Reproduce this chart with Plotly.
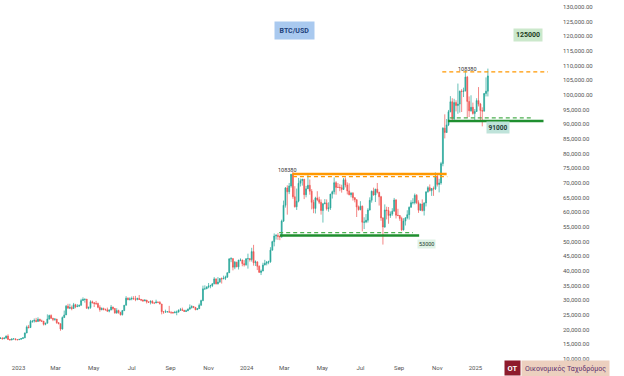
import plotly.graph_objects as go
import pandas as pd

# ---------------- data (3-day BTC/USD candles, values in thousands USD) -------------
first_open = 17.0
closes = [
    17.1, 16.85, 17.15, 17.8, 16.65, 16.45, 16.8, 16.85, 16.55, 16.55,
    16.7, 16.95, 17.2, 18.85, 20.9, 20.7, 22.8, 22.9, 23.1, 22.8,
    23.5, 22.9, 22.9, 21.8, 22.2, 23.6, 24.8, 23.9, 23.5, 23.6,
    22.35, 22.0, 20.2, 24.1, 25.0, 28.0, 27.3, 27.5, 27.2, 28.5,
    27.8, 28.0, 28.3, 29.9, 30.3, 30.4, 27.3, 27.5, 29.5, 29.2,
    28.9, 28.9, 27.6, 26.8, 27.2, 26.8, 26.8, 26.3, 26.7, 27.7,
    27.2, 25.7, 26.5, 25.85, 25.1, 26.5, 28.3, 30.7, 30.3, 30.45,
    30.6, 30.5, 30.3, 30.6, 30.3, 30.1, 29.8, 30.1, 29.4, 29.35,
    29.7, 29.1, 29.1, 29.4, 29.3, 28.7, 26.1, 26.0, 26.05, 26.1,
    25.95, 25.9, 25.75, 25.9, 26.0, 26.6, 26.8, 26.6, 26.2, 26.4,
    26.97, 27.5, 27.9, 27.6, 26.8, 27.15, 28.3, 29.9, 33.9, 33.9,
    34.5, 34.9, 35.0, 35.6, 37.3, 35.6, 36.2, 37.4, 37.3, 37.5,
    37.9, 39.4, 44.1, 44.2, 41.3, 43.0, 41.4, 43.7, 43.7, 42.5,
    42.1, 44.2, 44.2, 43.9, 46.6, 42.8, 43.1, 41.6, 39.5, 40.0,
    42.0, 42.6, 43.0, 43.1, 47.1, 50.0, 51.9, 52.1, 51.8, 51.6,
    57.0, 62.4, 68.3, 67.0, 69.0, 73.0, 65.3, 61.9, 63.8, 69.9,
    70.8, 71.3, 66.0, 68.0, 69.2, 67.2, 63.4, 61.3, 64.9, 64.3,
    63.4, 60.6, 62.9, 63.2, 61.2, 61.5, 66.2, 67.0, 70.1, 68.5,
    68.5, 68.4, 67.8, 71.1, 69.3, 67.3, 66.0, 66.5, 65.0, 64.3,
    61.8, 60.9, 62.1, 56.6, 56.7, 57.3, 60.8, 64.1, 67.2, 65.9,
    67.9, 66.8, 65.3, 58.1, 55.0, 60.8, 60.6, 58.9, 59.4, 60.4,
    64.2, 59.0, 58.9, 57.9, 54.0, 57.0, 58.1, 59.2, 61.7, 63.3,
    63.3, 65.8, 63.3, 60.7, 62.8, 60.6, 63.2, 67.0, 68.4, 67.4,
    68.1, 68.0, 72.3, 69.5, 70.0, 76.6, 88.7, 87.2, 89.8, 94.3,
    97.7, 91.9, 97.4, 96.4, 96.9, 101.3, 101.2, 101.4, 106.1, 97.8,
    94.6, 95.8, 93.7, 94.4, 98.1, 96.9, 94.7, 94.5, 100.5, 101.3,
    106.5,
]
highs = [
    17.4, 17.4, 17.3, 18.0, 18.4, 16.8, 16.95, 16.9, 16.95, 16.7,
    16.8, 17.0, 17.4, 19.0, 21.4, 21.6, 23.3, 23.2, 23.8, 24.0,
    24.2, 23.7, 23.4, 22.9, 22.3, 25.2, 25.1, 25.2, 23.9, 23.9,
    23.6, 22.6, 22.1, 24.5, 26.5, 28.4, 28.8, 28.8, 28.2, 29.1,
    28.8, 28.7, 28.5, 30.5, 31.0, 30.5, 30.4, 27.9, 30.0, 29.9,
    29.3, 29.8, 29.2, 28.3, 27.6, 27.5, 27.2, 27.5, 26.8, 28.4,
    27.8, 27.4, 27.3, 26.8, 26.1, 26.7, 28.4, 31.4, 31.0, 31.0,
    31.3, 31.4, 31.5, 30.9, 31.8, 30.4, 30.3, 30.3, 30.1, 29.6,
    29.9, 30.0, 29.2, 30.2, 29.5, 29.7, 28.8, 26.3, 26.8, 26.2,
    28.1, 26.1, 26.0, 26.4, 26.5, 26.9, 27.4, 27.5, 26.7, 26.8,
    27.2, 28.6, 28.3, 28.0, 27.7, 27.3, 28.9, 30.2, 35.0, 35.1,
    34.8, 35.9, 35.3, 35.9, 37.9, 37.4, 37.9, 37.5, 37.8, 38.4,
    38.4, 39.5, 44.4, 44.7, 44.4, 43.4, 43.1, 43.8, 44.3, 43.9,
    43.7, 44.2, 45.9, 44.4, 47.9, 48.9, 43.6, 43.2, 41.9, 40.5,
    42.8, 43.8, 43.4, 43.5, 48.1, 50.3, 52.8, 52.6, 52.9, 52.0,
    57.5, 64.0, 68.6, 69.2, 70.0, 73.0, 73.8, 68.9, 68.1, 71.7,
    71.5, 71.4, 71.3, 69.0, 72.7, 71.2, 67.9, 64.3, 65.3, 67.2,
    65.3, 64.4, 63.2, 64.5, 64.4, 63.4, 66.3, 67.4, 71.9, 70.6,
    70.0, 69.6, 69.4, 71.7, 71.9, 70.2, 69.9, 66.9, 66.9, 65.1,
    64.4, 62.3, 63.8, 62.3, 58.3, 59.4, 61.4, 65.1, 67.4, 68.4,
    68.0, 70.0, 67.0, 65.6, 58.3, 62.7, 61.9, 61.8, 60.3, 61.4,
    64.9, 64.5, 61.2, 59.0, 58.5, 58.0, 58.4, 60.7, 62.0, 64.1,
    64.8, 66.4, 66.2, 64.1, 63.0, 64.4, 63.4, 67.0, 68.9, 69.5,
    68.3, 68.8, 73.6, 72.7, 71.4, 77.2, 89.0, 93.4, 91.8, 94.9,
    99.6, 98.9, 98.7, 98.2, 103.9, 101.5, 102.0, 102.5, 108.3, 106.5,
    99.5, 99.9, 97.4, 95.2, 98.9, 102.7, 97.3, 95.8, 100.7, 106.0,
    109.0,
]
lows = [
    16.8, 16.7, 16.8, 16.9, 16.6, 16.4, 16.4, 16.75, 16.5, 16.4,
    16.5, 16.6, 16.9, 17.1, 18.8, 20.4, 20.6, 22.3, 22.4, 22.5,
    22.7, 22.8, 22.6, 21.4, 21.5, 22.1, 23.4, 23.6, 22.9, 23.0,
    22.0, 21.9, 19.6, 20.0, 24.0, 25.0, 27.2, 27.0, 26.6, 27.1,
    27.3, 27.8, 27.8, 28.2, 29.8, 29.2, 27.1, 26.9, 27.1, 28.9,
    27.7, 28.4, 27.3, 26.1, 26.6, 26.6, 26.5, 26.1, 25.9, 26.6,
    26.6, 25.4, 25.4, 25.4, 24.8, 24.8, 26.3, 28.3, 30.0, 29.9,
    30.0, 30.2, 29.7, 30.0, 30.2, 29.7, 29.5, 29.7, 28.9, 29.1,
    28.6, 28.8, 28.7, 29.0, 29.2, 28.7, 25.2, 25.4, 25.8, 25.9,
    25.9, 25.3, 25.4, 25.6, 24.9, 25.8, 26.4, 26.4, 26.1, 26.0,
    26.4, 26.9, 27.2, 27.3, 26.6, 26.7, 27.1, 28.2, 29.7, 33.6,
    33.9, 34.1, 34.1, 34.5, 35.5, 35.4, 35.4, 36.0, 35.7, 37.2,
    36.9, 37.6, 39.3, 43.0, 40.2, 40.6, 41.3, 40.5, 43.3, 41.6,
    41.5, 41.8, 40.8, 43.2, 43.2, 41.8, 41.7, 40.3, 39.5, 38.6,
    39.9, 42.0, 41.9, 42.3, 42.8, 47.0, 48.4, 50.7, 50.6, 50.5,
    51.3, 56.7, 61.6, 59.2, 66.2, 68.4, 64.6, 61.6, 60.8, 63.4,
    68.8, 69.1, 64.5, 65.1, 68.0, 66.0, 61.0, 59.7, 59.6, 63.8,
    62.8, 59.2, 56.5, 62.8, 60.6, 60.2, 60.8, 64.7, 66.1, 66.0,
    68.4, 67.2, 66.7, 67.6, 68.5, 66.1, 65.8, 65.1, 64.0, 63.4,
    58.4, 60.6, 60.7, 53.5, 54.3, 56.3, 56.5, 60.6, 63.3, 65.7,
    63.5, 66.4, 62.3, 57.1, 49.0, 54.7, 57.6, 56.1, 58.1, 58.8,
    60.3, 57.9, 58.7, 57.1, 53.6, 53.8, 55.5, 57.6, 57.5, 61.6,
    62.7, 62.7, 62.8, 59.8, 60.5, 60.3, 58.9, 62.0, 66.7, 67.1,
    65.6, 65.6, 67.6, 68.8, 66.8, 69.4, 75.7, 85.2, 87.1, 89.4,
    94.1, 90.8, 91.3, 94.4, 93.6, 94.0, 94.2, 99.3, 101.2, 92.2,
    92.5, 94.3, 93.3, 91.4, 94.2, 96.1, 91.2, 89.3, 94.3, 99.5,
    99.5,
]
first_candle_mid = "2022-12-03"

tick_dates = ["2023-01-01", "2023-03-01", "2023-05-01", "2023-07-01", "2023-09-01",
              "2023-11-01", "2024-01-01", "2024-03-01", "2024-05-01", "2024-07-01",
              "2024-09-01", "2024-11-01", "2025-01-01"]
tick_text = ["2023", "Mar", "May", "Jul", "Sep", "Nov", "2024", "Mar", "May", "Jul",
             "Sep", "Nov", "2025"]

# drawn support / resistance levels (USD)
res_solid = 73100
res_dash = 72200
sup_solid = 52050
sup_dash = 53100
top_dash = 107850
sup2_solid = 91100
sup2_dash = 92200

# ---------------- build ----------------
dates = pd.date_range(first_candle_mid, periods=len(closes), freq="3D")
opens = [first_open] + closes[:-1]
o = [v * 1000 for v in opens]
c = [v * 1000 for v in closes]
h = [max(a, b, v * 1000) for a, b, v in zip(o, c, highs)]
l = [min(a, b, v * 1000) for a, b, v in zip(o, c, lows)]

GREEN = "#26a69a"
RED = "#ef5350"

fig = go.Figure(go.Candlestick(
    x=dates, open=o, high=h, low=l, close=c,
    increasing=dict(line=dict(color=GREEN, width=0.7), fillcolor=GREEN),
    decreasing=dict(line=dict(color=RED, width=0.7), fillcolor=RED),
    whiskerwidth=0, hoverinfo="skip",
))

ORANGE = "#ff9800"
DGREEN = "#1f8f2f"
LGREEN = "#4caf50"

def hline(x0, x1, y, color, width, dash="solid"):
    fig.add_shape(type="line", xref="x", yref="y", x0=x0, x1=x1, y0=y, y1=y,
                  line=dict(color=color, width=width, dash=dash))

hline("2024-03-14", "2024-11-16", res_solid, ORANGE, 2.5)
hline("2024-03-15", "2024-11-17", res_dash, ORANGE, 1.3, "4px,3px")
hline("2024-02-23", "2024-10-03", sup_solid, DGREEN, 2.5)
hline("2024-02-22", "2024-09-23", sup_dash, LGREEN, 1.3, "4px,3px")
hline("2024-11-09", "2025-04-27", top_dash, ORANGE, 1.3, "4px,3px")
hline("2024-11-18", "2025-04-20", sup2_solid, DGREEN, 2.5)
hline("2024-11-21", "2025-04-03", sup2_dash, LGREEN, 1.3, "4px,3px")

FONT = "Roboto, Liberation Sans, Arial, sans-serif"

def ann(text, x, y, xref, yref, size, color, bg=None, pad=1, bold=False):
    fig.add_annotation(text=("<b>%s</b>" % text) if bold else text, x=x, y=y,
                       xref=xref, yref=yref, showarrow=False,
                       font=dict(size=size, color=color, family=FONT),
                       bgcolor=bg if bg else "rgba(0,0,0,0)", borderpad=pad,
                       xanchor="center", yanchor="middle")

ann("108380", "2024-03-06", 74300, "x", "y", 5.5, "#333333")
ann("108380", "2024-12-20", 108900, "x", "y", 5.5, "#333333")
ann("53000", "2024-10-14", 49200, "x", "y", 5.5, "#1d3b2c", "#dff2e6", 1)
ann("91000", "2025-02-06", 88750, "x", "y", 6.5, "#1d3b35", "#bfe3da", 1.5, True)
ann("BTC/USD", 294 / 556, 1 - 31 / 361, "paper", "paper", 7, "#1c3f7a", "#a9c9ef", 4.5, True)
ann("125000", 528 / 556, 1 - 35 / 361, "paper", "paper", 7, "#1e3d1e", "#cbe8cb", 2, True)
ann("OT", 512.5 / 556, 1 - 368 / 361, "paper", "paper", 7.5, "#ffffff", "#8e1b2c", 2.5, True)
ann("Οικονομικός Ταχυδρόμος", 565 / 556, 1 - 368 / 361, "paper", "paper", 7,
    "#5a2d6e", "#ecd0bf", 3)

fig.update_layout(
    width=624, height=376,
    margin=dict(l=0, r=68, t=0, b=15, autoexpand=False),
    paper_bgcolor="white", plot_bgcolor="white",
    showlegend=False,
    font=dict(family=FONT, size=6, color="#555555"),
    xaxis=dict(
        range=["2022-12-02 05:00", "2025-05-10"],
        rangeslider=dict(visible=False), automargin=False,
        showgrid=False, zeroline=False, showline=False,
        tickmode="array", tickvals=tick_dates, ticktext=tick_text,
        tickfont=dict(size=6, color="#555555"), ticks="", ticklabelstandoff=2,
    ),
    yaxis=dict(
        side="right", range=[9300, 132390], automargin=False,
        showgrid=False, zeroline=False, showline=False,
        dtick=5000, tick0=0, tickformat=",.2f",
        tickfont=dict(size=6, color="#555555"), ticks="", ticklabelstandoff=6,
    ),
)

fig.write_html("out.html", config={"displayModeBar": False},
               post_script="document.body.style.margin='0px';")
